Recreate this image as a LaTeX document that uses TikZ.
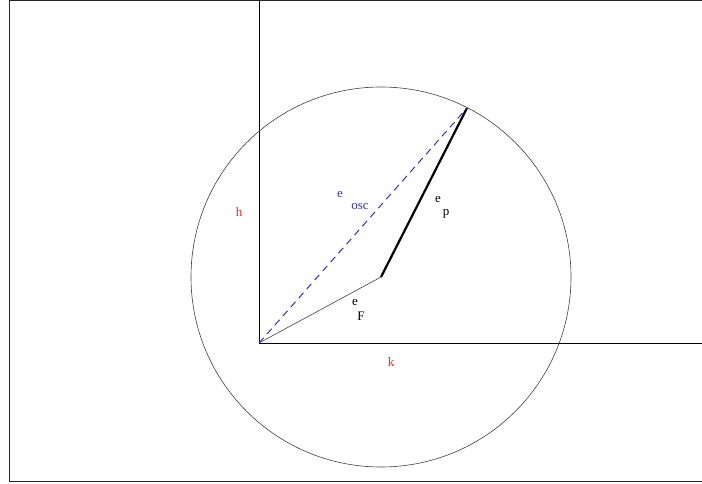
\documentclass[tikz,border=0pt]{standalone}
\usepackage{fontspec}
\setmainfont{Liberation Serif}
\definecolor{oscblue}{RGB}{50,50,195}
\definecolor{lblred}{RGB}{235,40,40}
\begin{document}
\begin{tikzpicture}[x=1pt,y=-1pt,
  lbl/.style={inner sep=0pt,font=\fontsize{13}{15}\selectfont},
  frame/.style={line width=1pt,draw=black!85},
  axis/.style={line width=0.9pt},
  thin/.style={line width=0.6pt,draw=black!75}]
\useasboundingbox (0,0) rectangle (702,484);
\coordinate (O) at (259,343);
\coordinate (F) at (381,277);
\coordinate (P) at (467,108);
\coordinate (ftl) at (9,1);
\coordinate (ftr) at (702,1);
\coordinate (fbl) at (9,481);
\coordinate (fbr) at (702,481);
\coordinate (ytop) at (259,0);
\coordinate (xend) at (702,343);
% frame
\draw[frame] (ftr) -- (ftl) -- (fbl) -- (fbr);
% axes
\draw[axis] (ytop) -- (O) -- (xend);
% circle
\draw[thin] (F) circle (190);
% vectors
\draw[thin] (O) -- (F);
\draw[line width=2.2pt] (F) -- (P);
\draw[oscblue,line width=1pt,dash pattern=on 7pt off 5pt] (O) -- (P);
% labels
\node[lbl,text=lblred] (h) at (239,212) {h};
\node[lbl,text=lblred] (k) at (391,362) {k};
\node[lbl,text=oscblue] (eo) at (340,195) {e};
\node[lbl,text=oscblue] (osc) at (360,207) {osc};
\node[lbl] (ep) at (438,200) {e};
\node[lbl] (pp) at (446,214) {p};
\node[lbl] (ef) at (355,302) {e};
\node[lbl] (ff) at (361,316) {F};
\end{tikzpicture}
\end{document}
